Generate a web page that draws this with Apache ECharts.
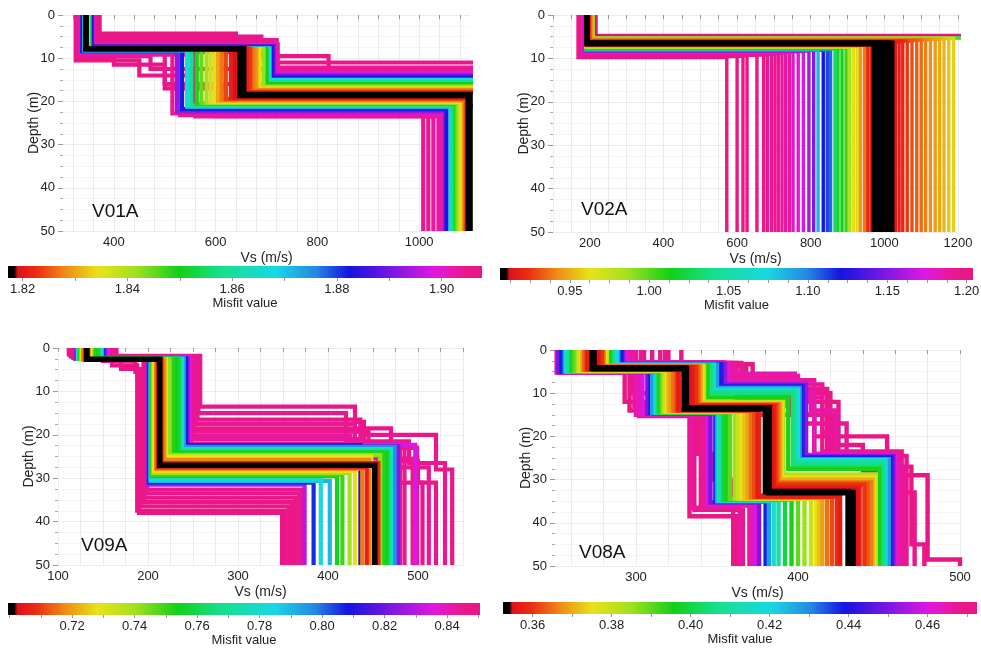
<!DOCTYPE html>
<html><head><meta charset="utf-8">
<script src="https://cdn.jsdelivr.net/npm/echarts@6/dist/echarts.min.js"></script>
<style>html,body{margin:0;padding:0;background:#fff}#c{width:981px;height:650px}</style>
</head><body><div id="c"></div>
<script>
// ---------------- DATA ----------------
// Each profile: [misfit, Vs layer1, bottom depth1, Vs layer2, bottom depth2, ..., Vs half-space]
const v01aProfiles = [
  [1.907, 372, 4.3, 640, 6.8, 722, 13.8, 1180],
  [1.906, 368, 5.0, 690, 9.5, 822, 12.5, 1180],
  [1.905, 366, 5.8, 720, 11.0, 1200],
  [1.904, 362, 6.5, 718, 12.2, 1160],
  [1.903, 360, 6.8, 716, 13.0, 1150],
  [1.906, 325, 10.5, 450, 14.0, 560, 21.0, 1150],
  [1.907, 330, 10.0, 400, 11.5, 500, 17.0, 620, 22.5, 1046],
  [1.905, 326, 9.5, 472, 12.5, 1150],
  [1.905, 328, 9.0, 500, 16.0, 1150],
  [1.904, 330, 9.0, 515, 22.8, 1008],
  [1.904, 335, 8.8, 530, 23.2, 1018],
  [1.903, 332, 9.2, 560, 23.5, 1028],
  [1.903, 340, 8.5, 600, 23.4, 1038],
  [1.902, 338, 8.6, 640, 23.0, 1045],
  [1.898, 358, 7.0, 716, 13.5, 1160],
  [1.893, 340, 8.5, 524, 22.3, 1051],
  [1.890, 357, 7.2, 714, 14.0, 1150],
  [1.884, 356, 7.5, 711, 14.5, 1150],
  [1.882, 338, 8.3, 534, 21.8, 1054],
  [1.868, 352, 7.7, 706, 15.0, 1150],
  [1.867, 342, 8.2, 544, 21.2, 1062],
  [1.860, 351, 7.8, 703, 15.5, 1150],
  [1.858, 343, 8.1, 552, 20.9, 1066],
  [1.850, 350, 7.9, 700, 16.0, 1150],
  [1.849, 344, 8.1, 563, 20.6, 1072],
  [1.845, 344, 8.0, 572, 20.4, 1075],
  [1.842, 349, 7.9, 694, 16.6, 1150],
  [1.841, 345, 8.0, 582, 20.3, 1078],
  [1.837, 345, 8.0, 590, 20.1, 1082],
  [1.834, 348, 7.9, 686, 17.0, 1150],
  [1.834, 345, 8.0, 598, 20.0, 1085],
  [1.830, 345, 7.9, 605, 19.8, 1088],
  [1.829, 347, 7.9, 680, 17.3, 1150],
  [1.827, 347, 7.9, 674, 17.5, 1150],
  [1.827, 345, 7.9, 612, 19.6, 1090],
  [1.824, 345, 7.8, 620, 19.4, 1092],
  [1.823, 346, 7.8, 668, 17.8, 1150],
  [1.821, 346, 7.8, 662, 18.0, 1150],
  [1.821, 345, 7.8, 630, 19.2, 1094],
  [1.819, 345, 7.8, 638, 18.9, 1096],
  [1.818, 345, 7.8, 655, 18.4, 1100],
  [1.817, 345, 7.8, 648, 18.6, 1097]
];
const v02aProfiles = [
  [1.204, 217, 4.7, 1300], [1.202, 214, 4.9, 1260],
  [1.200, 168, 9.8, 572], [1.199, 170, 9.6, 600], [1.198, 172, 9.5, 616],
  [1.197, 173, 9.4, 627], [1.196, 175, 9.3, 654], [1.195, 176, 9.2, 672],
  [1.194, 177, 9.1, 682], [1.193, 178, 9.0, 693], [1.192, 179, 9.0, 703],
  [1.191, 180, 8.9, 712], [1.190, 181, 8.8, 722], [1.189, 182, 8.7, 732],
  [1.188, 183, 8.7, 742], [1.180, 184, 8.6, 752], [1.176, 185, 8.5, 766],
  [1.172, 186, 8.4, 780], [1.160, 186, 8.3, 795], [1.150, 187, 8.2, 808],
  [1.085, 188, 8.0, 820], [1.120, 187, 8.1, 834], [1.112, 188, 8.0, 845],
  [1.105, 188, 8.0, 854], [1.030, 189, 7.8, 866], [1.020, 189, 7.7, 874],
  [1.012, 190, 7.6, 885], [1.005, 190, 7.5, 896], [0.985, 190, 7.4, 906],
  [0.965, 191, 7.3, 916], [0.960, 191, 7.2, 926], [0.945, 191, 7.1, 935],
  [0.938, 191, 7.0, 946], [0.922, 192, 6.9, 955], [0.918, 192, 6.8, 964],
  [0.909, 192, 6.7, 972], [0.908, 192, 6.6, 982], [0.907, 193, 6.5, 992],
  [0.906, 193, 6.5, 1002], [0.907, 193, 6.4, 1012], [0.908, 194, 6.4, 1021],
  [0.915, 195, 6.3, 1030], [0.918, 196, 6.2, 1040], [0.920, 197, 6.1, 1050],
  [0.925, 198, 6.0, 1062], [0.930, 199, 6.0, 1075], [0.933, 200, 5.9, 1088],
  [0.936, 201, 5.8, 1100], [0.940, 202, 5.8, 1112], [0.943, 203, 5.7, 1125],
  [0.946, 204, 5.6, 1138], [0.949, 205, 5.6, 1150], [0.952, 206, 5.5, 1162],
  [0.955, 207, 5.4, 1175], [0.958, 208, 5.4, 1188], [1.000, 209, 5.3, 1230],
  [1.060, 210, 5.2, 1260], [1.140, 212, 5.0, 1280]
];
const v09aProfiles = [
  [0.850, 112, 1.5, 150, 3.0, 186, 5.5, 190, 38.0, 349],
  [0.849, 114, 1.8, 160, 4.0, 188, 37.5, 352],
  [0.848, 115, 2.0, 170, 4.8, 192, 36.5, 356],
  [0.847, 118, 2.2, 195, 35.5, 360],
  [0.848, 117, 2.3, 196, 34.5, 364],
  [0.847, 119, 2.4, 198, 33.5, 368],
  [0.846, 120, 2.4, 199, 32.6, 371],
  [0.846, 165, 1.8, 258, 13.5, 430, 17.0, 440, 20.0, 520, 28.0, 538],
  [0.845, 162, 2.0, 256, 15.0, 420, 21.5, 490, 26.5, 530],
  [0.847, 163, 1.9, 255, 16.5, 436, 22.0, 455, 31.0, 520],
  [0.844, 160, 2.2, 253, 17.5, 430, 24.5, 460, 27.5, 512],
  [0.846, 163, 2.0, 251, 18.5, 470, 26.0, 500, 31.0, 505],
  [0.845, 161, 2.1, 250, 19.3, 445, 23.0, 499],
  [0.844, 159, 2.2, 249, 21.0, 440, 25.5, 494],
  [0.845, 158, 2.3, 248, 22.0, 485],
  [0.843, 157, 2.3, 247, 20.2, 425, 22.4, 480],
  [0.835, 155, 2.2, 246, 22.3, 497],
  [0.830, 119, 2.4, 200, 31.5, 374],
  [0.823, 152, 2.3, 244, 22.6, 478],
  [0.808, 150, 2.4, 242, 22.4, 436],
  [0.806, 121, 2.5, 201, 31.0, 384],
  [0.796, 149, 2.4, 240, 22.8, 474],
  [0.784, 148, 2.5, 238, 23.3, 470],
  [0.785, 122, 2.5, 203, 30.3, 392],
  [0.790, 123, 2.5, 203, 30.6, 402],
  [0.770, 146, 2.5, 236, 23.6, 468],
  [0.758, 145, 2.5, 234, 24.0, 466],
  [0.755, 124, 2.5, 204, 29.5, 410],
  [0.754, 142, 2.5, 231, 24.2, 464],
  [0.752, 140, 2.5, 228, 24.3, 462],
  [0.750, 125, 2.5, 205, 29.2, 416],
  [0.742, 137, 2.6, 224, 24.7, 458],
  [0.740, 126, 2.6, 206, 28.8, 424],
  [0.729, 136, 2.6, 220, 25.0, 448],
  [0.728, 127, 2.6, 207, 28.3, 430],
  [0.717, 134, 2.6, 218, 25.8, 446],
  [0.716, 128, 2.6, 209, 27.8, 438],
  [0.707, 133, 2.6, 215, 26.5, 456],
  [0.706, 130, 2.6, 211, 27.5, 443],
  [0.700, 132, 2.6, 213, 27.0, 452]
];
const v08aProfiles = [
  [0.466, 295, 3.0, 358, 7.0, 410, 24.0, 461],
  [0.468, 305, 3.2, 362, 8.0, 415, 23.5, 464],
  [0.470, 315, 3.0, 365, 10.0, 420, 22.0, 440, 28.0, 466],
  [0.471, 328, 3.5, 368, 12.0, 425, 27.0, 470, 45.0, 478],
  [0.472, 320, 3.3, 372, 15.0, 410, 20.0, 455, 29.0, 480, 48.5, 500],
  [0.469, 310, 3.1, 360, 9.0, 418, 26.0, 448, 33.0, 472],
  [0.467, 300, 3.4, 356, 6.0, 400, 17.0, 430, 25.0, 462],
  [0.466, 298, 3.2, 360, 9.5, 408, 14.0, 424, 26.0, 463],
  [0.467, 303, 3.0, 362, 11.0, 415, 19.0, 420, 27.5, 465],
  [0.468, 318, 3.6, 366, 13.0, 395, 15.0, 422, 24.5, 467],
  [0.465, 296, 2.8, 354, 5.5, 398, 12.0, 410, 27.0, 460],
  [0.468, 251, 5.2, 300, 15.0, 340, 36.0, 370],
  [0.470, 252, 5.0, 296, 14.0, 336, 37.0, 366],
  [0.471, 253, 4.8, 293, 12.0, 333, 38.5, 362],
  [0.469, 255, 4.5, 298, 10.0, 338, 24.0, 348, 30.0, 360],
  [0.467, 256, 4.6, 302, 15.3, 342, 35.8, 372],
  [0.466, 254, 5.3, 299, 13.0, 334, 36.5, 364],
  [0.464, 253, 5.2, 301, 14.9, 345, 35.4, 371],
  [0.460, 252, 5.1, 304, 14.8, 344, 35.6, 374],
  [0.461, 294, 3.1, 356, 7.8, 402, 24.3, 460],
  [0.452, 292, 3.2, 355, 8.0, 405, 24.5, 459],
  [0.450, 252, 5.1, 307, 14.7, 346, 35.3, 376],
  [0.445, 291, 3.3, 353, 8.3, 403, 24.8, 458],
  [0.438, 291, 3.3, 352, 8.5, 402, 25.0, 457],
  [0.438, 254, 5.0, 309, 14.6, 349, 35.1, 380],
  [0.428, 289, 3.4, 350, 8.8, 401, 25.3, 456],
  [0.428, 256, 5.0, 310, 14.6, 350, 35.0, 382],
  [0.419, 288, 3.4, 348, 9.2, 400, 25.5, 454],
  [0.419, 257, 5.0, 312, 14.5, 351, 34.9, 385],
  [0.410, 286, 3.5, 347, 9.6, 398, 26.0, 453],
  [0.410, 258, 5.0, 313, 14.5, 352, 34.8, 388],
  [0.405, 285, 3.5, 346, 10.0, 397, 26.7, 452],
  [0.400, 260, 4.9, 314, 14.4, 354, 34.7, 392],
  [0.395, 284, 3.6, 344, 11.0, 394, 27.5, 450],
  [0.395, 261, 4.9, 315, 14.4, 356, 34.6, 396],
  [0.390, 262, 4.9, 316, 14.4, 358, 34.5, 400],
  [0.385, 264, 4.8, 317, 14.3, 361, 34.4, 404],
  [0.382, 282, 3.7, 342, 12.0, 391, 28.8, 448],
  [0.380, 265, 4.8, 318, 14.3, 363, 34.4, 408],
  [0.375, 281, 3.7, 341, 12.4, 390, 29.5, 447],
  [0.375, 266, 4.7, 319, 14.2, 365, 34.3, 411],
  [0.372, 267, 4.7, 320, 14.2, 367, 34.2, 413],
  [0.370, 280, 3.8, 340, 12.5, 389, 30.0, 446],
  [0.369, 267, 4.6, 321, 14.1, 369, 34.2, 415],
  [0.366, 280, 3.8, 339, 12.6, 388, 30.6, 445],
  [0.365, 268, 4.6, 323, 14.1, 371, 34.1, 418],
  [0.363, 279, 3.9, 338, 12.7, 387, 30.9, 443],
  [0.362, 269, 4.5, 325, 14.0, 373, 34.0, 421],
  [0.360, 279, 3.9, 337, 12.8, 386, 31.2, 441],
  [0.359, 270, 4.4, 327, 13.8, 376, 33.7, 424],
  [0.357, 277, 4.0, 335, 13.0, 385, 31.8, 438],
  [0.357, 270, 4.4, 326, 13.9, 375, 33.9, 426],
  [0.355, 276, 4.1, 333, 13.2, 384, 32.3, 436],
  [0.353, 274, 4.3, 331, 13.4, 382, 33.0, 434],
  [0.3525, 273, 4.2, 330, 13.6, 380, 32.8, 431]
];
const depthMax = 50;
const depthTicks = [0, 10, 20, 30, 40, 50];
const v01aVsLabels = [400, 600, 800, 1000];
const v02aVsLabels = [200, 400, 600, 800, 1000, 1200];
const v09aVsLabels = [100, 200, 300, 400, 500];
const v08aVsLabels = [300, 400, 500];
const v01aMisfitRange = [1.8172, 1.9077];
const v02aMisfitRange = [0.906, 1.204];
const v09aMisfitRange = [0.6995, 0.8505];
const v08aMisfitRange = [0.3525, 0.4725];
const v01aMisfitLabels = [1.82, 1.84, 1.86, 1.88, 1.90];
const v02aMisfitLabels = [0.95, 1.00, 1.05, 1.10, 1.15, 1.20];
const v09aMisfitLabels = [0.72, 0.74, 0.76, 0.78, 0.80, 0.82, 0.84];
const v08aMisfitLabels = [0.36, 0.38, 0.40, 0.42, 0.44, 0.46];
const siteNames = ['V01A', 'V02A', 'V09A', 'V08A'];

// ---------------- STYLE / LAYOUT ----------------
const FONT = "'Liberation Sans', Arial, sans-serif";
const cmap = [
  [0, '#000000'], [0.013, '#000000'], [0.02, '#e0101a'], [0.06, '#ea2e12'],
  [0.12, '#f08a14'], [0.19, '#e6e418'], [0.27, '#a2e020'], [0.36, '#12d016'],
  [0.45, '#16e08c'], [0.565, '#18d8e2'], [0.65, '#2488e2'], [0.72, '#1414e2'],
  [0.82, '#8418e2'], [0.90, '#e018e0'], [0.96, '#ea1890'], [1, '#ea1682']
];
const panels = [
  {name: siteNames[0], prof: v01aProfiles, xMin: 300, xMax: 1100, xInt: 100, tickStep: 40, labels: v01aVsLabels, lw: 4.2,
   range: v01aMisfitRange, cbLabels: v01aMisfitLabels, cbStep: 0.01,
   grid: {left: 63, top: 15, width: 407, height: 216}, cb: {left: 8, top: 266, width: 474, height: 12}, tag: [87, 197]},
  {name: siteNames[1], prof: v02aProfiles, xMin: 100, xMax: 1200, xInt: 100, tickStep: 50, labels: v02aVsLabels, lw: 3.4,
   range: v02aMisfitRange, cbLabels: v02aMisfitLabels, cbStep: 0.0125,
   grid: {left: 553, top: 15, width: 405, height: 217}, cb: {left: 500, top: 268, width: 473, height: 12}, tag: [576, 195]},
  {name: siteNames[2], prof: v09aProfiles, xMin: 100, xMax: 550, xInt: 50, tickStep: 25, labels: v09aVsLabels, lw: 4.2,
   range: v09aMisfitRange, cbLabels: v09aMisfitLabels, cbStep: 0.01,
   grid: {left: 58, top: 348, width: 405, height: 217}, cb: {left: 8, top: 603, width: 472, height: 12}, tag: [76, 531]},
  {name: siteNames[3], prof: v08aProfiles, xMin: 250, xMax: 500, xInt: 50, tickStep: 20, labels: v08aVsLabels, lw: 4.4,
   range: v08aMisfitRange, cbLabels: v08aMisfitLabels, cbStep: 0.01,
   grid: {left: 555, top: 350, width: 405, height: 216}, cb: {left: 503, top: 602, width: 474, height: 12}, tag: [574, 538]}
];

function hexToRgb(h) { return [parseInt(h.slice(1,3),16), parseInt(h.slice(3,5),16), parseInt(h.slice(5,7),16)]; }
function colorAt(f) {
  f = Math.max(0, Math.min(1, f));
  for (let i = 1; i < cmap.length; i++) {
    if (f <= cmap[i][0]) {
      const a = cmap[i-1], b = cmap[i];
      const t = (b[0] - a[0]) > 0 ? (f - a[0]) / (b[0] - a[0]) : 0;
      const ca = hexToRgb(a[1]), cb = hexToRgb(b[1]);
      const c = ca.map((v, k) => Math.round(v + (cb[k] - v) * t));
      return 'rgb(' + c.join(',') + ')';
    }
  }
  return cmap[cmap.length-1][1];
}
function toSteps(p) {
  const pts = []; let top = 0;
  for (let i = 1; i < p.length; i += 2) {
    const v = p[i];
    const bottom = (i + 1 < p.length) ? p[i+1] : depthMax;
    pts.push([v, top]); pts.push([v, bottom]);
    top = bottom;
  }
  return pts;
}
function stepsFrom(lo, hi, step) { const a = []; for (let v = lo; v <= hi + 1e-9; v += step) a.push(+v.toFixed(4)); return a; }

const grids = [], xAxes = [], yAxes = [], series = [], titles = [];
const axisTxt = {color: '#222', fontFamily: FONT, fontSize: 13};

panels.forEach((P, k) => {
  grids.push(Object.assign({outerBoundsMode: 'none', containLabel: false}, P.grid));
  xAxes.push({
    type: 'value', gridIndex: k, min: P.xMin, max: P.xMax, interval: P.xInt,
    name: 'Vs (m/s)', nameLocation: 'middle', nameGap: 20, nameMoveOverlap: false,
    nameTextStyle: {color: '#222', fontFamily: FONT, fontSize: 14},
    axisLine: {show: false},
    axisTick: {show: true, length: 4, lineStyle: {color: '#999'}, customValues: stepsFrom(Math.ceil(P.xMin / P.tickStep) * P.tickStep, P.xMax, P.tickStep)},
    axisLabel: Object.assign({margin: 5, showMinLabel: true, showMaxLabel: true, hideOverlap: false,
      formatter: v => P.labels.indexOf(v) >= 0 ? String(v) : ''}, axisTxt),
    splitLine: {show: true, lineStyle: {color: '#ececec', width: 1}},
    minorTick: {show: false},
    minorSplitLine: {show: false}
  });
  yAxes.push({
    type: 'value', gridIndex: k, min: 0, max: depthMax, interval: 10, inverse: true,
    name: 'Depth (m)', nameLocation: 'middle', nameGap: 22, nameRotate: 90, nameMoveOverlap: false,
    nameTextStyle: {color: '#222', fontFamily: FONT, fontSize: 14},
    axisLine: {show: false},
    axisTick: {show: true, length: 5, lineStyle: {color: '#999'}},
    minorTick: {show: true, splitNumber: 4, length: 3, lineStyle: {color: '#aaa'}},
    axisLabel: Object.assign({margin: 8, formatter: v => depthTicks.indexOf(v) >= 0 ? String(v) : ''}, axisTxt),
    splitLine: {show: true, lineStyle: {color: '#ececec', width: 1}},
    minorSplitLine: {show: true, lineStyle: {color: '#f6f6f6', width: 1}}
  });
  const sorted = P.prof.slice().sort((a, b) => b[0] - a[0]);
  sorted.forEach(p => {
    const f = (p[0] - P.range[0]) / (P.range[1] - P.range[0]);
    const col = colorAt(f);
    series.push({
      type: 'line', xAxisIndex: k, yAxisIndex: k, data: toSteps(p),
      showSymbol: false, symbol: 'none', silent: true, animation: false, clip: true,
      lineStyle: {color: col, width: f < 0.013 ? P.lw + 1.4 : P.lw, join: 'miter', cap: 'butt'}
    });
  });
  titles.push({text: P.name, left: P.tag[0], top: P.tag[1],
    textStyle: {fontFamily: FONT, fontSize: 19, fontWeight: 'normal', color: '#111'}});
});

// colorbars
const gradStops = cmap.map(s => ({offset: s[0], color: s[1]}));
panels.forEach((P, k) => {
  const gi = 4 + k;
  grids.push(Object.assign({outerBoundsMode: 'none', containLabel: false}, P.cb));
  xAxes.push({
    type: 'value', gridIndex: gi, min: P.range[0], max: P.range[1],
    name: 'Misfit value', nameLocation: 'middle', nameGap: 19, nameMoveOverlap: false,
    nameTextStyle: {color: '#222', fontFamily: FONT, fontSize: 13},
    axisLine: {show: false},
    axisTick: {show: true, length: 3, lineStyle: {color: '#999'},
      customValues: stepsFrom(Math.ceil(P.range[0] / P.cbStep) * P.cbStep, P.range[1], P.cbStep)},
    axisLabel: Object.assign({margin: 5, customValues: P.cbLabels, formatter: v => Number(v).toFixed(2)}, axisTxt),
    splitLine: {show: false}
  });
  yAxes.push({type: 'value', gridIndex: gi, min: 0, max: 1, show: false});
  series.push({
    type: 'custom', xAxisIndex: gi, yAxisIndex: gi, silent: true, animation: false,
    data: [[P.range[0], P.range[1]]],
    renderItem: (params, api) => {
      const p0 = api.coord([api.value(0), 0]);
      const p1 = api.coord([api.value(1), 1]);
      return {type: 'rect', shape: {x: p0[0], y: p1[1], width: p1[0] - p0[0], height: p0[1] - p1[1]},
        style: {fill: new echarts.graphic.LinearGradient(0, 0, 1, 0, gradStops)}};
    }
  });
});

const chart = echarts.init(document.getElementById('c'), null, {renderer: 'canvas'});
chart.setOption({
  animation: false, backgroundColor: '#ffffff',
  title: titles, grid: grids, xAxis: xAxes, yAxis: yAxes, series: series
});
</script></body></html>
